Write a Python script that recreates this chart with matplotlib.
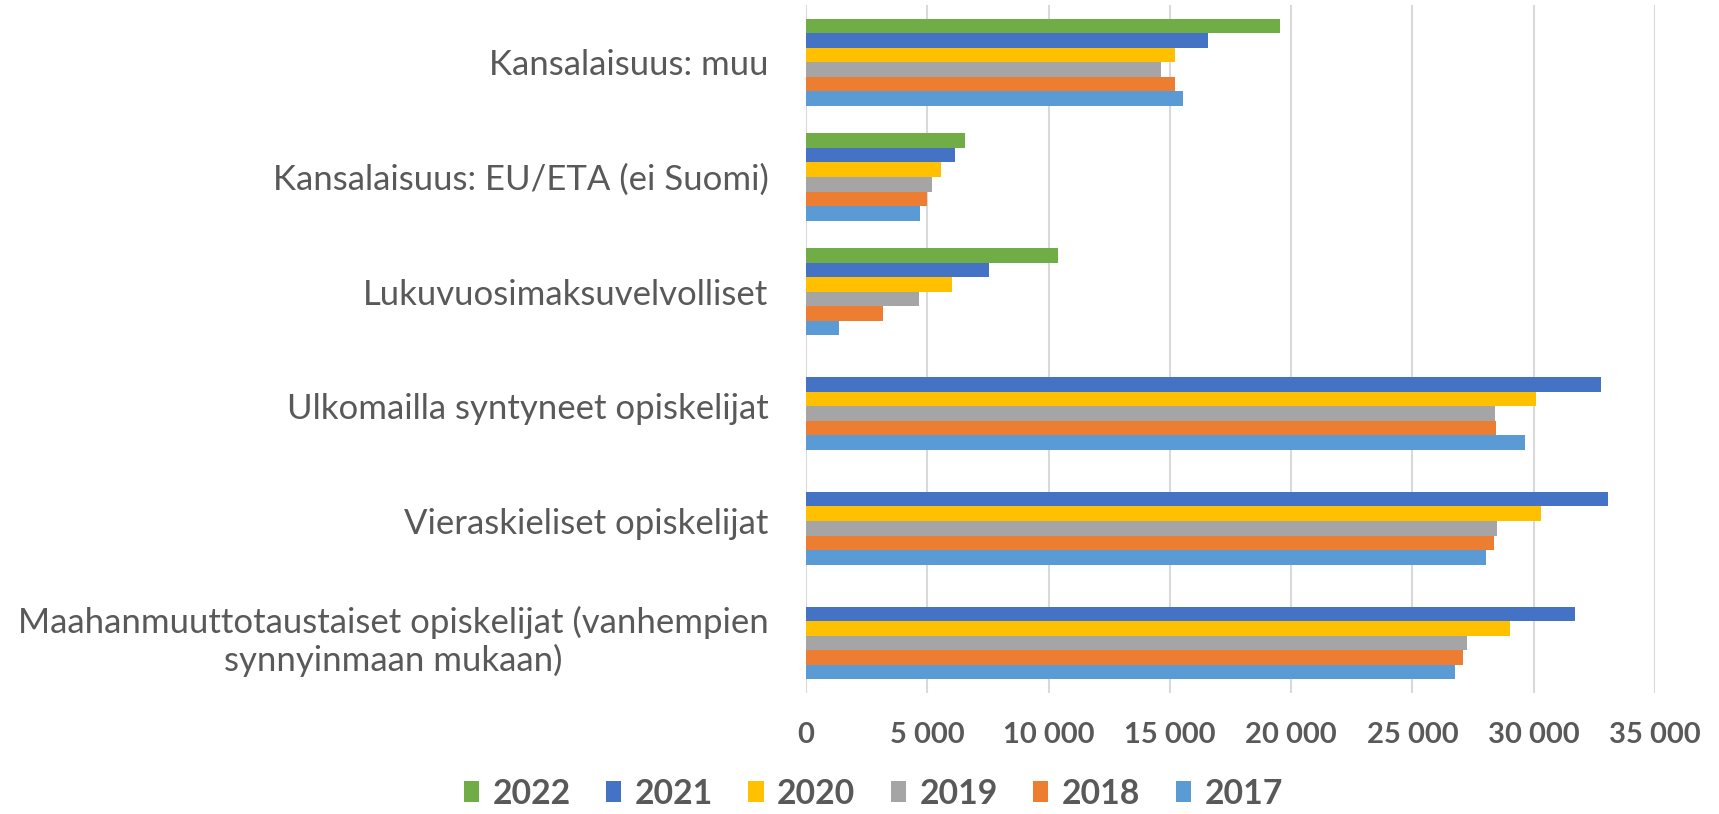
import numpy as np
import matplotlib
matplotlib.use("Agg")
import matplotlib.pyplot as plt

categories = [
    "Maahanmuuttotaustaiset opiskelijat (vanhempien\nsynnyinmaan mukaan)",
    "Vieraskieliset opiskelijat",
    "Ulkomailla syntyneet opiskelijat",
    "Lukuvuosimaksuvelvolliset",
    "Kansalaisuus: EU/ETA (ei Suomi)",
    "Kansalaisuus: muu",
]
years = ["2022", "2021", "2020", "2019", "2018", "2017"]
v2022 = [np.nan, np.nan, np.nan, 10380, 6570, 19550]
v2021 = [31690, 33050, 32760, 7560, 6150, 16560]
v2020 = [29010, 30300, 30110, 6010, 5570, 15220]
v2019 = [27260, 28500, 28410, 4650, 5200, 14620]
v2018 = [27070, 28380, 28450, 3190, 4990, 15200]
v2017 = [26750, 28040, 29650, 1360, 4720, 15540]
series = [v2022, v2021, v2020, v2019, v2018, v2017]
colors = ["#70AD47", "#4472C4", "#FFC000", "#A5A5A5", "#ED7D31", "#5B9BD5"]
xticks = [0, 5000, 10000, 15000, 20000, 25000, 30000, 35000]
xtick_labels = ["0", "5 000", "10 000", "15 000", "20 000", "25 000", "30 000", "35 000"]

fam = "Lato"
plt.rcParams["font.family"] = [fam, "DejaVu Sans"]

textc = "#595959"
fig = plt.figure(figsize=(17.19, 8.14), dpi=100)
ax = fig.add_axes([806/1719, 1 - 693/814, (1655 - 806)/1719, (693 - 5)/814])

h = 0.127
y = np.arange(len(categories))
for i, (vals, col, yr) in enumerate(zip(series, colors, years)):
    off = (2.5 - i) * h
    ax.barh(y + off, vals, height=h, color=col, label=yr, zorder=3, linewidth=0)

ax.set_ylim(-0.5, len(categories) - 0.5)
ax.set_xlim(0, 35000)
ax.set_xticks(xticks)
ax.set_xticklabels(xtick_labels, fontsize=21, fontweight="bold", color=textc)
ax.set_yticks(y)
ax.set_yticklabels(categories, fontsize=25, color=textc, multialignment="center")
ax.tick_params(axis="y", length=0, pad=27)
ax.tick_params(axis="x", length=0, pad=21)
for s in ax.spines.values():
    s.set_visible(False)
ax.grid(axis="x", color="#D9D9D9", linewidth=1.5, zorder=0)
ax.set_axisbelow(True)

handles, labels = ax.get_legend_handles_labels()
fig.legend(handles, labels, loc="center", bbox_to_anchor=(0.508, 0.025), ncol=6,
           frameon=False, prop={"family": fam, "weight": "bold", "size": 24.3},
           labelcolor=textc, handlelength=0.45, handleheight=0.6,
           handletextpad=0.4, columnspacing=1.05)

fig.savefig("out.png", dpi=100)
